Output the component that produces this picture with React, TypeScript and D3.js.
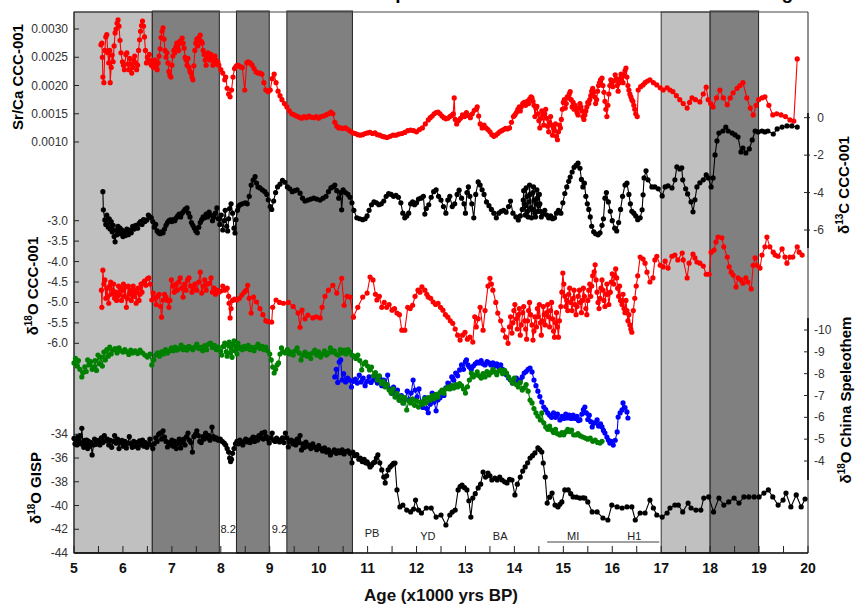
import React from 'react';
import * as d3 from 'd3';

type P = [number, number];

// ---------- Axis ticks ----------
const xTicks = [5, 6, 7, 8, 9, 10, 11, 12, 13, 14, 15, 16, 17, 18, 19, 20];
const xMinorTicks = [5.5, 6.5, 7.5, 8.5, 9.5, 10.5, 11.5, 12.5, 13.5, 14.5, 15.5, 16.5, 17.5, 18.5, 19.5];
const srTicks = [0.001, 0.0015, 0.002, 0.0025, 0.003];
const d13cTicks = [0, -2, -4, -6];
const d18oTicks = [-3.0, -3.5, -4.0, -4.5, -5.0, -5.5, -6.0];
const chinaTicks = [-10, -9, -8, -7, -6, -5, -4];
const gispTicks = [-34, -36, -38, -40, -42, -44];

// ---------- Shaded intervals (ka) ----------
const lightBands: P[] = [[5, 6.6], [17, 18]];
const darkBands: P[] = [[6.6, 7.97], [8.32, 8.99], [9.35, 10.69], [18, 18.99]];

// ---------- Event labels ----------
const eventNames = ['8.2', '9.2', 'PB', 'YD', 'BA', 'MI', 'H1'];
const eventAges = [8.15, 9.2, 11.09, 12.23, 13.71, 15.2, 16.45];
const miH1Span: P = [14.67, 16.96];

// ---------- Sr/Ca CCC-001 ----------
const srCa: P[] = [
[5.55,0.00272],[5.57,0.00275],[5.58,0.00250],[5.59,0.00215],[5.61,0.00205],[5.63,0.00262],[5.65,0.00286],[5.67,0.00290],[5.69,0.00258],[5.71,0.00240],[5.73,0.00262],[5.74,0.00205],[5.76,0.00232],[5.78,0.00254],[5.80,0.00242],[5.82,0.00270],[5.84,0.00293],[5.86,0.00300],[5.88,0.00310],[5.90,0.00316],[5.92,0.00305],[5.94,0.00280],[5.96,0.00258],[5.99,0.00242],[6.01,0.00236],[6.03,0.00228],[6.06,0.00255],[6.08,0.00258],[6.10,0.00238],[6.12,0.00228],[6.14,0.00248],[6.16,0.00238],[6.18,0.00222],[6.20,0.00232],[6.22,0.00245],[6.24,0.00252],[6.26,0.00240],[6.28,0.00228],[6.30,0.00236],[6.32,0.00262],[6.34,0.00281],[6.36,0.00296],[6.38,0.00306],[6.40,0.00314],[6.42,0.00305],[6.44,0.00286],[6.46,0.00262],[6.48,0.00240],[6.50,0.00250],[6.52,0.00245],[6.54,0.00255],[6.56,0.00240],[6.58,0.00236],[6.60,0.00245],[6.62,0.00232],[6.64,0.00240],[6.66,0.00245],[6.68,0.00234],[6.70,0.00228],[6.72,0.00240],[6.74,0.00252],[6.76,0.00265],[6.78,0.00285],[6.80,0.00296],[6.82,0.00302],[6.84,0.00282],[6.86,0.00262],[6.88,0.00250],[6.90,0.00258],[6.92,0.00240],[6.94,0.00225],[6.96,0.00218],[6.98,0.00215],[7.00,0.00236],[7.02,0.00252],[7.04,0.00262],[7.06,0.00258],[7.08,0.00268],[7.10,0.00275],[7.12,0.00270],[7.14,0.00262],[7.16,0.00278],[7.18,0.00275],[7.21,0.00284],[7.23,0.00275],[7.25,0.00266],[7.27,0.00250],[7.29,0.00245],[7.31,0.00236],[7.33,0.00248],[7.35,0.00232],[7.37,0.00225],[7.39,0.00222],[7.41,0.00215],[7.43,0.00210],[7.45,0.00235],[7.47,0.00262],[7.49,0.00275],[7.51,0.00282],[7.53,0.00270],[7.55,0.00285],[7.58,0.00289],[7.60,0.00278],[7.62,0.00275],[7.64,0.00262],[7.66,0.00255],[7.68,0.00245],[7.70,0.00236],[7.72,0.00248],[7.74,0.00258],[7.76,0.00255],[7.78,0.00245],[7.80,0.00255],[7.82,0.00248],[7.84,0.00236],[7.86,0.00242],[7.88,0.00252],[7.90,0.00245],[7.92,0.00238],[7.94,0.00242],[7.96,0.00236],[8.00,0.00228],[8.04,0.00222],[8.08,0.00210],[8.10,0.00215],[8.13,0.00195],[8.16,0.00185],[8.19,0.00180],[8.22,0.00192],[8.25,0.00215],[8.28,0.00230],[8.31,0.00234],[8.34,0.00236],[8.37,0.00235],[8.40,0.00233],[8.44,0.00232],[8.49,0.00192],[8.53,0.00240],[8.56,0.00242],[8.60,0.00240],[8.64,0.00236],[8.68,0.00230],[8.72,0.00224],[8.76,0.00222],[8.80,0.00222],[8.84,0.00220],[8.88,0.00205],[8.92,0.00192],[8.97,0.00189],[9.01,0.00192],[9.05,0.00212],[9.09,0.00220],[9.13,0.00205],[9.17,0.00190],[9.21,0.00182],[9.25,0.00175],[9.30,0.00168],[9.35,0.00162],[9.40,0.00155],[9.45,0.00150],[9.50,0.00148],[9.55,0.00146],[9.60,0.00144],[9.65,0.00142],[9.70,0.00145],[9.75,0.00143],[9.80,0.00146],[9.85,0.00144],[9.90,0.00143],[9.95,0.00145],[10.00,0.00142],[10.05,0.00145],[10.10,0.00146],[10.15,0.00148],[10.20,0.00150],[10.25,0.00153],[10.29,0.00150],[10.33,0.00135],[10.37,0.00128],[10.41,0.00125],[10.45,0.00125],[10.50,0.00124],[10.55,0.00125],[10.60,0.00122],[10.65,0.00119],[10.70,0.00116],[10.75,0.00115],[10.80,0.00113],[10.85,0.00112],[10.90,0.00113],[10.95,0.00115],[11.00,0.00116],[11.05,0.00117],[11.10,0.00115],[11.15,0.00116],[11.20,0.00113],[11.25,0.00112],[11.30,0.00110],[11.35,0.00109],[11.40,0.00108],[11.46,0.00110],[11.52,0.00112],[11.58,0.00112],[11.64,0.00114],[11.70,0.00115],[11.76,0.00117],[11.82,0.00120],[11.88,0.00121],[11.94,0.00120],[12.00,0.00118],[12.06,0.00122],[12.12,0.00125],[12.18,0.00132],[12.24,0.00139],[12.28,0.00143],[12.32,0.00146],[12.36,0.00150],[12.40,0.00152],[12.44,0.00153],[12.48,0.00150],[12.52,0.00146],[12.56,0.00143],[12.60,0.00141],[12.64,0.00142],[12.68,0.00145],[12.72,0.00147],[12.75,0.00150],[12.77,0.00178],[12.79,0.00140],[12.82,0.00132],[12.86,0.00138],[12.90,0.00142],[12.94,0.00148],[12.98,0.00145],[13.02,0.00152],[13.06,0.00147],[13.10,0.00143],[13.14,0.00150],[13.18,0.00156],[13.22,0.00158],[13.24,0.00162],[13.27,0.00146],[13.30,0.00132],[13.34,0.00125],[13.38,0.00130],[13.42,0.00125],[13.46,0.00122],[13.50,0.00118],[13.54,0.00113],[13.58,0.00110],[13.62,0.00112],[13.66,0.00115],[13.70,0.00118],[13.74,0.00120],[13.78,0.00122],[13.82,0.00124],[13.86,0.00123],[13.90,0.00125],[13.94,0.00135],[13.98,0.00145],[14.01,0.00148],[14.04,0.00152],[14.07,0.00158],[14.10,0.00162],[14.12,0.00155],[14.14,0.00162],[14.17,0.00168],[14.20,0.00170],[14.23,0.00165],[14.26,0.00172],[14.29,0.00168],[14.31,0.00176],[14.34,0.00180],[14.36,0.00178],[14.38,0.00172],[14.40,0.00165],[14.42,0.00145],[14.44,0.00160],[14.46,0.00163],[14.48,0.00150],[14.50,0.00138],[14.52,0.00125],[14.54,0.00142],[14.56,0.00155],[14.58,0.00148],[14.60,0.00130],[14.62,0.00150],[14.64,0.00158],[14.66,0.00142],[14.68,0.00128],[14.70,0.00118],[14.72,0.00135],[14.74,0.00145],[14.76,0.00130],[14.78,0.00112],[14.80,0.00125],[14.82,0.00120],[14.84,0.00132],[14.86,0.00110],[14.88,0.00104],[14.90,0.00118],[14.92,0.00130],[14.94,0.00125],[14.96,0.00140],[14.98,0.00158],[15.00,0.00170],[15.02,0.00175],[15.04,0.00160],[15.06,0.00168],[15.08,0.00180],[15.10,0.00178],[15.12,0.00185],[15.14,0.00189],[15.16,0.00175],[15.18,0.00162],[15.20,0.00170],[15.22,0.00158],[15.24,0.00165],[15.26,0.00160],[15.28,0.00152],[15.30,0.00148],[15.32,0.00160],[15.34,0.00168],[15.36,0.00162],[15.38,0.00155],[15.40,0.00145],[15.42,0.00140],[15.44,0.00148],[15.46,0.00155],[15.48,0.00162],[15.50,0.00170],[15.52,0.00168],[15.54,0.00175],[15.56,0.00182],[15.58,0.00190],[15.60,0.00195],[15.62,0.00188],[15.64,0.00180],[15.66,0.00168],[15.68,0.00175],[15.70,0.00190],[15.72,0.00200],[15.74,0.00205],[15.76,0.00210],[15.79,0.00213],[15.81,0.00200],[15.83,0.00188],[15.85,0.00172],[15.87,0.00158],[15.89,0.00145],[15.91,0.00165],[15.93,0.00185],[15.95,0.00200],[15.97,0.00210],[15.99,0.00205],[16.01,0.00198],[16.03,0.00208],[16.06,0.00219],[16.08,0.00212],[16.10,0.00200],[16.12,0.00190],[16.14,0.00205],[16.16,0.00212],[16.18,0.00220],[16.20,0.00215],[16.22,0.00205],[16.24,0.00218],[16.26,0.00226],[16.28,0.00231],[16.30,0.00215],[16.32,0.00200],[16.34,0.00192],[16.36,0.00185],[16.38,0.00180],[16.40,0.00175],[16.42,0.00172],[16.44,0.00165],[16.46,0.00158],[16.48,0.00150],[16.51,0.00145],[16.53,0.00192],[16.58,0.00198],[16.63,0.00201],[16.67,0.00205],[16.72,0.00208],[16.77,0.00210],[16.84,0.00205],[16.91,0.00201],[16.98,0.00196],[17.04,0.00192],[17.12,0.00196],[17.18,0.00192],[17.24,0.00189],[17.31,0.00182],[17.38,0.00175],[17.45,0.00168],[17.53,0.00160],[17.58,0.00170],[17.63,0.00178],[17.70,0.00175],[17.79,0.00171],[17.86,0.00185],[17.92,0.00197],[17.96,0.00175],[18.01,0.00168],[18.06,0.00162],[18.13,0.00178],[18.20,0.00192],[18.27,0.00178],[18.35,0.00166],[18.41,0.00178],[18.47,0.00187],[18.55,0.00195],[18.61,0.00200],[18.67,0.00205],[18.75,0.00178],[18.82,0.00160],[18.88,0.00148],[18.94,0.00165],[18.99,0.00175],[19.06,0.00178],[19.12,0.00180],[19.20,0.00165],[19.28,0.00148],[19.36,0.00150],[19.45,0.00148],[19.54,0.00145],[19.63,0.00139],[19.71,0.00137],[19.78,0.00247]
];

// ---------- d13C CCC-001 ----------
const d13c: P[] = [
[5.59,-3.95],[5.60,-4.92],[5.63,-5.46],[5.65,-5.70],[5.67,-5.20],[5.70,-5.85],[5.72,-5.40],[5.74,-5.95],[5.76,-5.55],[5.78,-6.10],[5.80,-5.75],[5.82,-6.35],[5.84,-6.63],[5.86,-6.00],[5.88,-6.25],[5.90,-5.80],[5.92,-6.05],[5.94,-5.90],[5.96,-6.20],[5.98,-6.00],[6.00,-6.35],[6.03,-6.10],[6.05,-6.30],[6.08,-5.95],[6.11,-6.25],[6.14,-6.00],[6.17,-6.15],[6.20,-5.80],[6.23,-5.95],[6.26,-5.75],[6.30,-5.90],[6.33,-5.65],[6.36,-5.55],[6.39,-5.70],[6.42,-5.45],[6.45,-5.55],[6.49,-5.46],[6.52,-5.20],[6.55,-5.30],[6.58,-5.35],[6.61,-5.55],[6.64,-5.85],[6.67,-5.70],[6.70,-6.05],[6.73,-6.15],[6.76,-6.20],[6.79,-6.10],[6.82,-6.15],[6.85,-5.95],[6.88,-5.75],[6.91,-5.60],[6.94,-5.50],[6.97,-5.46],[7.00,-5.55],[7.03,-5.45],[7.06,-5.50],[7.09,-5.35],[7.12,-5.25],[7.15,-5.15],[7.18,-5.30],[7.21,-5.10],[7.24,-5.00],[7.27,-4.90],[7.31,-4.82],[7.34,-5.10],[7.37,-5.30],[7.40,-5.60],[7.43,-5.75],[7.46,-5.90],[7.49,-6.05],[7.52,-6.15],[7.55,-5.85],[7.58,-5.60],[7.61,-5.45],[7.64,-5.30],[7.67,-5.35],[7.70,-5.15],[7.73,-5.30],[7.76,-5.05],[7.80,-5.20],[7.83,-5.50],[7.86,-5.30],[7.89,-5.10],[7.92,-4.82],[7.95,-5.40],[7.98,-5.70],[8.01,-5.20],[8.04,-6.00],[8.07,-5.50],[8.09,-4.95],[8.12,-5.80],[8.14,-6.05],[8.16,-5.40],[8.18,-4.85],[8.21,-4.60],[8.24,-5.10],[8.27,-5.90],[8.29,-6.16],[8.31,-5.45],[8.34,-4.95],[8.36,-4.75],[8.39,-4.65],[8.44,-4.60],[8.50,-4.55],[8.54,-4.60],[8.58,-4.20],[8.62,-3.60],[8.66,-3.33],[8.70,-3.15],[8.73,-3.50],[8.76,-3.70],[8.80,-3.75],[8.85,-3.86],[8.90,-3.95],[8.94,-4.10],[8.97,-4.39],[9.01,-4.75],[9.04,-4.90],[9.08,-4.45],[9.12,-4.00],[9.16,-3.70],[9.21,-3.55],[9.26,-3.35],[9.31,-3.45],[9.36,-3.70],[9.41,-3.80],[9.46,-3.95],[9.51,-3.90],[9.56,-3.85],[9.62,-4.03],[9.67,-4.30],[9.72,-4.45],[9.78,-4.40],[9.84,-4.35],[9.90,-4.30],[9.96,-4.35],[10.03,-4.40],[10.09,-4.30],[10.15,-4.20],[10.20,-3.95],[10.25,-3.75],[10.29,-3.70],[10.33,-3.60],[10.37,-3.90],[10.41,-4.30],[10.45,-4.00],[10.47,-4.92],[10.50,-3.85],[10.55,-4.00],[10.60,-4.10],[10.64,-4.25],[10.68,-4.55],[10.72,-4.95],[10.78,-5.35],[10.84,-5.40],[10.90,-5.45],[10.95,-5.40],[10.99,-5.25],[11.03,-4.95],[11.08,-4.65],[11.13,-4.50],[11.18,-4.55],[11.23,-4.65],[11.28,-4.60],[11.33,-4.45],[11.38,-4.20],[11.43,-4.05],[11.48,-4.10],[11.53,-4.20],[11.58,-4.15],[11.63,-4.25],[11.68,-4.55],[11.72,-5.10],[11.76,-5.35],[11.80,-5.25],[11.84,-5.10],[11.88,-4.60],[11.92,-4.50],[11.96,-4.65],[12.00,-4.55],[12.04,-4.35],[12.09,-4.30],[12.14,-4.20],[12.17,-5.15],[12.20,-4.85],[12.25,-4.65],[12.30,-4.25],[12.35,-3.95],[12.40,-3.85],[12.45,-4.20],[12.50,-4.40],[12.55,-4.75],[12.60,-5.10],[12.64,-4.40],[12.68,-4.20],[12.73,-4.75],[12.78,-4.60],[12.83,-4.10],[12.87,-3.87],[12.92,-4.30],[12.97,-4.60],[13.00,-5.10],[13.03,-4.00],[13.06,-3.70],[13.09,-4.20],[13.13,-4.60],[13.17,-5.35],[13.21,-4.10],[13.26,-3.43],[13.30,-3.60],[13.34,-3.85],[13.38,-4.10],[13.43,-4.50],[13.48,-4.70],[13.53,-4.90],[13.58,-5.10],[13.63,-5.35],[13.68,-5.10],[13.73,-5.00],[13.78,-4.95],[13.83,-5.05],[13.88,-4.75],[13.92,-4.45],[13.97,-5.10],[14.03,-5.30],[14.08,-5.46],[14.12,-5.25],[14.16,-4.90],[14.18,-4.40],[14.19,-3.90],[14.20,-4.60],[14.22,-5.20],[14.23,-4.70],[14.24,-3.75],[14.26,-4.20],[14.27,-5.00],[14.28,-5.30],[14.30,-4.50],[14.31,-3.60],[14.32,-4.10],[14.34,-4.80],[14.35,-5.35],[14.36,-4.90],[14.38,-4.00],[14.39,-3.70],[14.40,-4.40],[14.42,-5.10],[14.43,-5.30],[14.44,-4.60],[14.46,-3.85],[14.47,-4.30],[14.48,-5.00],[14.50,-4.70],[14.51,-4.10],[14.52,-4.60],[14.53,-5.00],[14.55,-5.30],[14.58,-5.15],[14.62,-4.95],[14.66,-5.20],[14.70,-5.35],[14.74,-5.25],[14.78,-5.40],[14.82,-5.35],[14.86,-5.10],[14.90,-4.95],[14.95,-5.10],[14.99,-4.55],[15.03,-4.05],[15.07,-3.70],[15.11,-3.40],[15.14,-3.17],[15.18,-2.90],[15.22,-2.65],[15.26,-2.55],[15.30,-2.43],[15.34,-2.70],[15.37,-3.30],[15.40,-3.70],[15.43,-3.50],[15.46,-4.20],[15.49,-4.60],[15.52,-4.90],[15.55,-5.30],[15.58,-5.80],[15.62,-6.10],[15.66,-6.20],[15.71,-6.26],[15.75,-6.15],[15.79,-5.75],[15.82,-5.40],[15.85,-4.30],[15.88,-4.00],[15.92,-4.50],[15.96,-5.00],[16.00,-5.50],[16.05,-5.90],[16.09,-6.05],[16.13,-5.60],[16.17,-4.90],[16.21,-4.20],[16.26,-3.60],[16.30,-3.50],[16.34,-4.10],[16.37,-4.60],[16.40,-5.00],[16.44,-5.10],[16.48,-5.25],[16.52,-5.45],[16.57,-5.35],[16.61,-4.92],[16.63,-4.12],[16.65,-3.22],[16.69,-2.84],[16.73,-3.32],[16.81,-3.70],[16.87,-3.70],[16.94,-3.80],[17.02,-4.18],[17.08,-3.70],[17.14,-3.64],[17.22,-3.75],[17.28,-3.32],[17.32,-2.63],[17.38,-2.74],[17.42,-2.68],[17.44,-3.32],[17.50,-3.80],[17.54,-4.07],[17.61,-4.50],[17.65,-5.03],[17.69,-4.39],[17.73,-3.70],[17.79,-3.48],[17.86,-3.32],[17.92,-3.06],[17.96,-3.22],[18.02,-3.70],[18.06,-3.22],[18.10,-1.99],[18.14,-1.24],[18.18,-0.82],[18.26,-0.71],[18.32,-0.50],[18.37,-0.71],[18.45,-0.82],[18.51,-0.92],[18.57,-1.03],[18.63,-1.83],[18.67,-1.62],[18.73,-1.88],[18.80,-1.67],[18.86,-1.19],[18.92,-0.71],[18.98,-0.76],[19.06,-0.71],[19.12,-0.76],[19.18,-0.71],[19.29,-0.87],[19.37,-0.60],[19.47,-0.50],[19.57,-0.44],[19.67,-0.44],[19.78,-0.50]
];

// ---------- d18O CCC-001 ----------
const d18oCCC: P[] = [
[5.56,-4.70],[5.57,-5.12],[5.59,-4.21],[5.61,-4.55],[5.63,-4.45],[5.65,-4.90],[5.67,-4.65],[5.69,-4.85],[5.71,-5.02],[5.73,-4.60],[5.75,-4.50],[5.77,-4.80],[5.79,-4.70],[5.81,-4.55],[5.83,-4.90],[5.85,-4.75],[5.87,-4.95],[5.89,-4.85],[5.91,-4.60],[5.93,-4.80],[5.95,-4.65],[5.97,-4.95],[5.99,-4.70],[6.01,-4.55],[6.03,-4.85],[6.05,-4.62],[6.07,-5.12],[6.09,-4.90],[6.11,-4.60],[6.13,-4.80],[6.15,-4.70],[6.17,-4.95],[6.19,-4.77],[6.21,-4.60],[6.23,-4.85],[6.25,-4.70],[6.27,-5.02],[6.29,-4.75],[6.31,-4.65],[6.33,-4.95],[6.35,-4.80],[6.37,-4.55],[6.39,-4.75],[6.41,-4.53],[6.44,-4.48],[6.47,-4.58],[6.50,-4.42],[6.53,-4.40],[6.56,-4.55],[6.59,-4.94],[6.62,-4.77],[6.65,-4.90],[6.68,-5.05],[6.71,-4.85],[6.74,-4.80],[6.77,-5.10],[6.79,-5.36],[6.82,-4.94],[6.85,-4.80],[6.88,-4.87],[6.91,-4.95],[6.94,-5.12],[6.96,-4.95],[6.99,-4.45],[7.02,-4.60],[7.05,-4.75],[7.08,-4.55],[7.11,-4.70],[7.14,-4.50],[7.17,-4.40],[7.20,-4.65],[7.23,-4.87],[7.26,-4.55],[7.29,-4.70],[7.32,-4.45],[7.35,-4.40],[7.38,-4.60],[7.41,-4.75],[7.44,-4.65],[7.47,-4.55],[7.51,-4.70],[7.55,-4.50],[7.58,-4.26],[7.61,-4.77],[7.64,-4.60],[7.67,-4.45],[7.70,-4.70],[7.73,-4.55],[7.77,-4.53],[7.80,-4.40],[7.83,-4.75],[7.86,-4.65],[7.89,-4.80],[7.92,-4.70],[7.96,-4.75],[8.00,-4.72],[8.04,-4.60],[8.08,-4.70],[8.13,-4.65],[8.16,-4.85],[8.17,-5.02],[8.19,-5.38],[8.21,-5.15],[8.24,-4.95],[8.28,-4.92],[8.33,-4.94],[8.38,-4.90],[8.43,-4.82],[8.48,-4.75],[8.52,-4.70],[8.55,-4.58],[8.58,-4.90],[8.62,-5.26],[8.67,-4.87],[8.73,-4.99],[8.80,-5.15],[8.86,-5.30],[8.92,-5.45],[8.97,-5.47],[9.04,-5.48],[9.06,-5.12],[9.13,-4.94],[9.20,-5.00],[9.28,-5.02],[9.38,-5.00],[9.48,-5.10],[9.58,-5.26],[9.62,-5.61],[9.66,-5.19],[9.72,-5.40],[9.78,-5.31],[9.88,-5.38],[9.95,-5.35],[10.03,-5.38],[10.07,-5.12],[10.13,-4.85],[10.20,-4.70],[10.29,-4.58],[10.37,-4.77],[10.47,-4.41],[10.52,-5.07],[10.58,-4.85],[10.64,-4.87],[10.71,-5.36],[10.80,-5.12],[10.90,-4.87],[10.99,-4.77],[11.05,-4.38],[11.11,-4.45],[11.16,-4.80],[11.19,-4.94],[11.24,-4.85],[11.29,-5.12],[11.34,-5.00],[11.39,-5.12],[11.44,-5.05],[11.50,-5.19],[11.55,-5.15],[11.60,-5.26],[11.65,-5.30],[11.70,-5.68],[11.76,-5.68],[11.82,-5.12],[11.87,-5.15],[11.92,-5.07],[11.97,-4.85],[12.03,-4.70],[12.07,-4.75],[12.11,-4.62],[12.17,-4.70],[12.21,-4.80],[12.24,-4.87],[12.29,-4.90],[12.34,-4.99],[12.39,-5.05],[12.44,-5.02],[12.49,-5.12],[12.54,-5.19],[12.59,-5.30],[12.64,-5.36],[12.69,-5.45],[12.74,-5.51],[12.79,-5.65],[12.84,-5.80],[12.89,-5.92],[12.94,-5.80],[12.99,-5.73],[13.04,-5.90],[13.09,-5.85],[13.15,-5.97],[13.19,-5.35],[13.22,-5.60],[13.26,-5.40],[13.30,-5.12],[13.36,-5.68],[13.40,-5.20],[13.46,-4.60],[13.50,-4.41],[13.53,-4.55],[13.56,-4.70],[13.62,-5.00],[13.66,-5.26],[13.72,-5.45],[13.77,-5.68],[13.82,-5.85],[13.87,-6.00],
[13.90,-5.60],[13.92,-5.35],[13.95,-5.75],[13.97,-5.50],[13.99,-5.20],[14.01,-5.05],[14.04,-5.40],[14.06,-5.65],[14.08,-5.30],[14.10,-5.15],[14.12,-5.80],[14.14,-5.55],[14.17,-5.25],[14.19,-5.10],[14.21,-5.45],[14.23,-5.65],[14.25,-5.90],[14.27,-5.45],[14.29,-5.20],[14.31,-5.00],[14.33,-5.30],[14.36,-5.55],[14.38,-5.92],[14.40,-5.70],[14.42,-5.35],[14.45,-5.60],[14.47,-5.15],[14.49,-5.35],[14.51,-5.05],[14.53,-5.50],[14.55,-5.80],[14.57,-5.45],[14.59,-5.10],[14.61,-5.30],[14.63,-5.55],[14.66,-5.25],[14.68,-5.05],[14.70,-5.35],[14.72,-5.60],[14.74,-5.20],[14.76,-5.00],[14.78,-5.40],[14.80,-5.70],[14.82,-5.85],[14.84,-5.50],[14.86,-5.25],[14.88,-5.60],[14.90,-5.85],[14.92,-5.45],[14.95,-5.10],[14.97,-4.75],[14.99,-4.28],[15.01,-4.55],[15.03,-4.85],[15.05,-5.10],[15.07,-4.95],[15.09,-5.20],[15.11,-4.80],[15.13,-4.65],[15.15,-5.00],[15.18,-5.20],[15.20,-4.90],[15.22,-4.70],[15.24,-5.05],[15.26,-5.30],[15.28,-5.10],[15.30,-4.85],[15.33,-4.70],[15.35,-5.00],[15.37,-5.25],[15.39,-4.95],[15.41,-4.65],[15.43,-4.85],[15.46,-5.15],[15.48,-5.30],[15.50,-4.95],[15.52,-4.70],[15.54,-4.55],[15.56,-4.85],[15.58,-4.60],[15.60,-4.35],[15.63,-4.25],[15.65,-4.08],[15.67,-4.45],[15.69,-4.75],[15.71,-5.00],[15.73,-5.15],[15.75,-4.90],[15.77,-4.65],[15.79,-4.45],[15.81,-4.70],[15.83,-4.95],[15.85,-5.10],[15.87,-4.80],[15.89,-4.55],[15.91,-4.80],[15.93,-5.05],[15.96,-4.75],[15.98,-4.50],[16.00,-4.30],[16.03,-4.55],[16.05,-4.35],[16.07,-4.18],[16.09,-4.40],[16.11,-4.65],[16.13,-4.85],[16.15,-4.60],[16.17,-4.95],[16.20,-5.05],[16.22,-4.80],[16.24,-5.15],[16.26,-5.25],[16.28,-4.95],[16.30,-5.20],[16.32,-5.45],[16.34,-5.30],[16.36,-5.55],[16.38,-5.65],[16.40,-5.73],[16.43,-5.20],[16.46,-4.90],[16.49,-4.60],[16.52,-4.35],
[16.57,-3.89],[16.63,-3.94],[16.67,-4.04],[16.71,-4.26],[16.77,-4.50],[16.83,-4.40],[16.87,-3.96],[16.91,-3.87],[16.98,-4.09],[17.04,-4.13],[17.08,-3.99],[17.14,-4.16],[17.22,-3.87],[17.28,-3.84],[17.34,-3.96],[17.43,-3.79],[17.45,-3.96],[17.53,-4.40],[17.57,-4.04],[17.65,-3.82],[17.69,-3.91],[17.73,-4.01],[17.79,-4.04],[17.86,-4.11],[17.92,-4.31],[17.98,-4.31],[18.02,-3.77],[18.08,-3.72],[18.12,-3.52],[18.16,-3.40],[18.24,-3.42],[18.28,-3.64],[18.35,-3.89],[18.39,-4.13],[18.43,-4.26],[18.47,-4.33],[18.53,-4.62],[18.57,-4.40],[18.63,-4.45],[18.67,-4.53],[18.73,-4.40],[18.77,-4.50],[18.84,-4.67],[18.88,-4.09],[18.92,-3.91],[18.96,-4.09],[19.02,-4.16],[19.06,-3.84],[19.12,-3.64],[19.16,-3.40],[19.22,-3.64],[19.29,-3.77],[19.33,-3.84],[19.39,-3.87],[19.47,-3.69],[19.53,-3.89],[19.57,-4.04],[19.63,-3.89],[19.69,-3.89],[19.78,-3.64],[19.82,-3.77],[19.88,-3.84]
];

// ---------- China speleothem d18O (green) ----------
const chinaGreen: P[] = [
[5.00,-8.49],[5.03,-8.70],[5.06,-8.35],[5.09,-8.60],[5.12,-8.20],[5.16,-7.85],[5.19,-8.05],[5.22,-8.31],[5.25,-8.10],[5.28,-8.63],[5.31,-8.40],[5.34,-8.55],[5.37,-8.20],[5.40,-8.31],[5.43,-8.60],[5.46,-8.15],[5.49,-8.85],[5.52,-8.45],[5.55,-8.76],[5.58,-8.35],[5.61,-8.99],[5.64,-8.63],[5.67,-9.10],[5.70,-8.80],[5.73,-9.22],[5.76,-8.90],[5.80,-9.08],[5.84,-9.15],[5.88,-8.95],[5.92,-9.18],[5.96,-9.05],[6.00,-8.99],[6.04,-9.10],[6.08,-9.00],[6.12,-8.88],[6.16,-9.08],[6.20,-8.95],[6.25,-9.05],[6.30,-8.92],[6.35,-9.08],[6.40,-8.95],[6.45,-8.85],[6.50,-8.76],[6.55,-8.90],[6.59,-8.40],[6.63,-8.63],[6.67,-8.85],[6.71,-8.95],[6.75,-8.80],[6.79,-9.00],[6.83,-8.90],[6.87,-9.10],[6.91,-8.95],[6.95,-9.05],[6.99,-9.18],[7.03,-9.05],[7.07,-9.22],[7.11,-9.08],[7.15,-9.15],[7.19,-9.31],[7.23,-9.10],[7.27,-9.20],[7.31,-9.08],[7.35,-9.25],[7.39,-9.18],[7.43,-9.10],[7.47,-9.22],[7.51,-9.35],[7.55,-9.15],[7.59,-9.20],[7.63,-9.05],[7.67,-9.28],[7.71,-9.10],[7.75,-9.35],[7.79,-9.40],[7.83,-9.20],[7.87,-9.30],[7.91,-9.10],[7.95,-9.22],[7.99,-9.05],[8.02,-8.85],[8.05,-9.25],[8.08,-9.40],[8.11,-9.00],[8.13,-8.80],[8.15,-9.30],[8.17,-9.45],[8.19,-8.95],[8.21,-9.20],[8.23,-8.75],[8.25,-9.35],[8.27,-9.50],[8.29,-9.05],[8.31,-9.25],[8.33,-8.90],[8.35,-9.40],[8.37,-9.15],[8.40,-9.22],[8.44,-9.10],[8.48,-9.25],[8.52,-9.15],[8.56,-9.30],[8.60,-9.10],[8.64,-9.20],[8.68,-9.05],[8.72,-9.22],[8.76,-9.35],[8.80,-9.15],[8.84,-9.25],[8.88,-9.10],[8.92,-9.22],[8.96,-9.05],[9.00,-8.90],[9.03,-8.63],[9.06,-8.30],[9.09,-8.03],[9.12,-8.20],[9.15,-8.40],[9.18,-8.49],[9.21,-8.90],[9.24,-9.18],[9.28,-9.00],[9.32,-8.95],[9.36,-9.10],[9.40,-8.90],[9.44,-8.99],[9.48,-8.85],[9.52,-9.05],[9.56,-9.18],[9.60,-8.95],[9.64,-8.63],[9.68,-8.85],[9.72,-8.99],[9.76,-8.80],[9.80,-8.90],[9.84,-8.70],[9.88,-8.95],[9.92,-9.08],[9.96,-8.85],[10.00,-9.00],[10.04,-8.76],[10.08,-8.90],[10.12,-9.05],[10.16,-8.85],[10.20,-8.95],[10.24,-9.18],[10.28,-8.99],[10.32,-9.05],[10.36,-8.90],[10.40,-8.85],[10.44,-9.10],[10.48,-8.95],[10.52,-9.08],[10.56,-8.90],[10.60,-9.10],[10.64,-8.99],[10.68,-8.85],[10.72,-8.80],[10.76,-8.70],[10.80,-8.85],[10.84,-8.60],[10.88,-8.17],[10.92,-8.45],[10.96,-8.53],[11.00,-8.35],[11.04,-8.17],[11.08,-8.30],[11.12,-7.90],[11.16,-8.05],[11.20,-7.71],[11.24,-7.90],[11.28,-7.55],[11.32,-7.65],[11.36,-7.39],[11.40,-7.50],[11.44,-7.25],[11.48,-7.11],[11.52,-7.30],[11.56,-6.93],[11.60,-7.10],[11.64,-6.79],[11.68,-6.95],[11.72,-6.66],[11.76,-6.90],[11.80,-6.34],[11.84,-6.75],[11.88,-6.66],[11.92,-6.85],[11.96,-6.55],[12.00,-6.75],[12.04,-6.47],[12.08,-6.70],[12.12,-6.60],[12.16,-6.85],[12.20,-6.66],[12.24,-6.90],[12.28,-6.79],[12.32,-7.00],[12.36,-6.85],[12.40,-7.05],[12.44,-6.93],[12.48,-7.15],[12.52,-7.25],[12.56,-7.10],[12.60,-7.30],[12.64,-7.39],[12.68,-7.30],[12.72,-7.45],[12.76,-7.34],[12.80,-7.50],[12.84,-7.39],[12.88,-7.55],[12.92,-7.45],[12.96,-7.30],[13.00,-7.11],[13.04,-7.40],[13.08,-7.71],[13.12,-8.03],[13.16,-7.85],[13.20,-7.94],[13.24,-8.08],[13.28,-7.90],[13.32,-7.80],[13.36,-8.00],[13.40,-7.85],[13.44,-8.10],[13.48,-7.94],[13.52,-8.05],[13.56,-8.20],[13.60,-8.08],[13.64,-7.95],[13.68,-8.12],[13.72,-8.17],[13.76,-8.00],[13.80,-8.15],[13.84,-8.03],[13.88,-7.85],[13.92,-7.71],[13.96,-7.57],[14.00,-7.80],[14.04,-7.50],[14.08,-7.39],[14.12,-7.60],[14.16,-7.25],[14.20,-7.35],[14.24,-7.50],[14.28,-7.20],[14.32,-6.79],[14.36,-6.66],[14.40,-6.40],[14.44,-6.20],[14.48,-6.05],[14.53,-5.88],[14.56,-6.20],[14.60,-5.75],[14.64,-5.56],[14.68,-5.45],[14.72,-5.60],[14.76,-5.42],[14.80,-5.30],[14.84,-5.45],[14.88,-5.25],[14.93,-5.19],[14.97,-5.30],[15.01,-5.20],[15.05,-5.33],[15.09,-5.45],[15.13,-5.35],[15.17,-5.42],[15.21,-5.20],[15.26,-5.19],[15.30,-5.25],[15.35,-5.15],[15.40,-5.10],[15.45,-5.05],[15.50,-5.00],[15.55,-5.05],[15.60,-4.90],[15.65,-4.96],[15.70,-4.85],[15.75,-4.82],[15.79,-4.90]
];

// ---------- China speleothem d18O (blue) ----------
const chinaBlue: P[] = [
[10.33,-7.85],[10.36,-8.20],[10.39,-7.60],[10.42,-8.53],[10.45,-8.63],[10.48,-7.71],[10.51,-8.00],[10.55,-7.62],[10.59,-7.80],[10.63,-7.71],[10.67,-7.39],[10.71,-7.65],[10.75,-7.75],[10.79,-7.57],[10.83,-7.94],[10.87,-7.62],[10.91,-7.80],[10.95,-7.45],[10.99,-7.65],[11.03,-7.85],[11.07,-7.60],[11.12,-7.71],[11.16,-7.90],[11.20,-7.57],[11.25,-7.80],[11.29,-7.45],[11.33,-7.70],[11.37,-7.50],[11.41,-7.94],[11.45,-7.30],[11.49,-7.10],[11.53,-7.39],[11.57,-6.95],[11.61,-7.25],[11.65,-6.79],[11.69,-7.00],[11.73,-6.66],[11.77,-6.85],[11.81,-7.20],[11.85,-6.79],[11.89,-7.11],[11.93,-7.71],[11.97,-7.25],[12.01,-6.93],[12.05,-7.30],[12.09,-6.70],[12.13,-6.45],[12.17,-6.90],[12.21,-6.40],[12.24,-6.21],[12.28,-6.60],[12.32,-7.11],[12.36,-6.70],[12.40,-6.30],[12.44,-6.80],[12.48,-6.90],[12.52,-7.20],[12.56,-7.00],[12.60,-7.35],[12.64,-7.57],[12.68,-7.40],[12.72,-7.85],[12.76,-7.70],[12.80,-8.03],[12.84,-7.90],[12.88,-8.17],[12.92,-8.40],[12.96,-8.20],[13.00,-8.55],[13.02,-8.63],[13.05,-8.40],[13.08,-8.30],[13.12,-8.20],[13.16,-8.35],[13.20,-8.45],[13.24,-8.53],[13.28,-8.49],[13.32,-8.60],[13.36,-8.45],[13.40,-8.40],[13.44,-8.55],[13.48,-8.49],[13.52,-8.40],[13.56,-8.49],[13.60,-8.35],[13.64,-8.45],[13.68,-8.31],[13.72,-8.40],[13.76,-8.20],[13.80,-8.08],[13.84,-7.94],[13.88,-7.80],[13.92,-7.71],[13.96,-7.57],[14.00,-7.65],[14.04,-7.80],[14.08,-7.62],[14.12,-7.71],[14.16,-7.85],[14.20,-8.03],[14.24,-8.10],[14.28,-8.20],[14.32,-8.26],[14.36,-8.08],[14.40,-7.71],[14.44,-7.45],[14.48,-7.20],[14.52,-6.95],[14.56,-6.70],[14.60,-6.47],[14.64,-6.35],[14.68,-6.20],[14.72,-6.10],[14.76,-6.00],[14.80,-6.20],[14.84,-6.00],[14.88,-6.15],[14.93,-5.88],[14.97,-6.05],[15.01,-5.95],[15.05,-6.15],[15.08,-5.97],[15.12,-6.10],[15.16,-5.95],[15.20,-6.10],[15.24,-5.95],[15.28,-6.05],[15.31,-5.85],[15.34,-5.88],[15.38,-6.15],[15.41,-6.35],[15.44,-6.47],[15.47,-6.20],[15.50,-5.90],[15.53,-6.10],[15.56,-5.80],[15.59,-5.56],[15.62,-5.75],[15.65,-5.74],[15.69,-5.88],[15.72,-5.60],[15.76,-5.70],[15.79,-5.56],[15.82,-5.40],[15.85,-5.28],[15.89,-5.10],[15.92,-4.96],[15.95,-4.82],[15.98,-4.90],[16.02,-4.73],[16.06,-4.95],[16.10,-5.33],[16.12,-6.01],[16.16,-6.20],[16.20,-6.34],[16.22,-6.66],[16.26,-6.45],[16.30,-6.25],[16.32,-5.97]
];

// ---------- GISP d18O ----------
const gisp: P[] = [
[5.00,-34.35],[5.02,-34.80],[5.04,-34.40],[5.06,-34.90],[5.08,-34.20],[5.10,-34.60],[5.12,-34.10],[5.14,-34.80],[5.16,-33.50],[5.18,-34.70],[5.20,-35.10],[5.22,-34.50],[5.24,-34.90],[5.26,-34.48],[5.28,-35.20],[5.30,-34.60],[5.32,-35.00],[5.35,-34.70],[5.37,-35.74],[5.40,-34.90],[5.42,-34.40],[5.44,-34.85],[5.47,-34.65],[5.50,-34.50],[5.53,-34.90],[5.56,-34.30],[5.59,-34.70],[5.62,-34.10],[5.65,-34.55],[5.68,-34.40],[5.71,-34.90],[5.74,-34.50],[5.77,-35.10],[5.80,-34.60],[5.83,-34.10],[5.86,-34.75],[5.89,-34.40],[5.92,-35.20],[5.95,-34.70],[5.98,-34.50],[6.01,-35.00],[6.04,-34.60],[6.07,-35.15],[6.10,-34.75],[6.13,-34.20],[6.16,-34.80],[6.19,-35.10],[6.22,-34.60],[6.25,-35.00],[6.28,-34.70],[6.31,-35.15],[6.34,-34.55],[6.37,-34.90],[6.40,-34.48],[6.43,-35.00],[6.46,-34.70],[6.49,-35.10],[6.52,-34.80],[6.55,-34.40],[6.58,-34.90],[6.61,-35.20],[6.64,-34.80],[6.67,-34.30],[6.70,-34.60],[6.73,-34.00],[6.76,-33.90],[6.79,-34.40],[6.82,-33.70],[6.85,-34.23],[6.88,-34.60],[6.91,-35.07],[6.94,-34.70],[6.97,-34.90],[7.00,-34.48],[7.03,-35.00],[7.06,-34.60],[7.09,-35.20],[7.12,-34.80],[7.15,-34.40],[7.18,-35.15],[7.21,-34.70],[7.24,-34.40],[7.27,-34.90],[7.30,-34.20],[7.33,-33.89],[7.36,-34.50],[7.39,-34.70],[7.42,-35.50],[7.45,-34.20],[7.48,-34.00],[7.51,-33.70],[7.54,-34.10],[7.57,-34.60],[7.60,-34.70],[7.63,-34.20],[7.66,-34.40],[7.69,-33.90],[7.72,-34.30],[7.75,-34.10],[7.78,-34.50],[7.82,-33.40],[7.85,-34.20],[7.88,-34.40],[7.91,-34.30],[7.95,-34.50],[7.99,-34.40],[8.03,-34.60],[8.07,-34.75],[8.10,-34.90],[8.13,-35.20],[8.16,-35.50],[8.18,-36.00],[8.20,-36.30],[8.22,-36.10],[8.24,-35.60],[8.27,-35.20],[8.30,-34.80],[8.33,-34.60],[8.36,-34.80],[8.39,-34.48],[8.42,-34.70],[8.45,-34.90],[8.48,-34.60],[8.51,-34.40],[8.54,-34.65],[8.57,-34.50],[8.60,-34.70],[8.63,-34.40],[8.66,-34.23],[8.69,-34.60],[8.72,-34.30],[8.75,-34.50],[8.78,-34.10],[8.81,-34.31],[8.84,-33.89],[8.87,-34.40],[8.90,-33.81],[8.93,-34.20],[8.96,-34.40],[8.99,-34.73],[9.02,-34.30],[9.05,-33.89],[9.08,-34.50],[9.11,-34.60],[9.14,-34.31],[9.17,-34.45],[9.20,-34.65],[9.23,-34.50],[9.26,-34.30],[9.29,-34.70],[9.32,-33.89],[9.35,-34.30],[9.38,-35.07],[9.41,-34.60],[9.44,-34.48],[9.47,-34.80],[9.50,-34.60],[9.53,-34.90],[9.56,-34.40],[9.59,-34.70],[9.62,-34.10],[9.65,-35.32],[9.68,-34.80],[9.71,-35.10],[9.74,-34.65],[9.77,-35.00],[9.80,-34.90],[9.84,-35.20],[9.88,-34.80],[9.92,-35.10],[9.96,-35.30],[10.00,-34.95],[10.04,-35.20],[10.08,-35.40],[10.12,-35.15],[10.16,-35.50],[10.20,-35.30],[10.24,-35.74],[10.28,-35.50],[10.32,-35.30],[10.36,-35.60],[10.40,-35.40],[10.44,-35.55],[10.48,-35.30],[10.52,-35.65],[10.56,-35.45],[10.60,-35.40],[10.64,-35.60],[10.68,-36.40],[10.70,-35.49],[10.74,-35.80],[10.78,-35.70],[10.82,-36.10],[10.85,-36.00],[10.89,-36.30],[10.93,-36.10],[10.96,-36.40],[10.99,-36.33],[11.02,-36.50],[11.05,-36.75],[11.08,-36.60],[11.12,-36.40],[11.15,-36.33],[11.18,-36.00],[11.21,-35.74],[11.25,-36.40],[11.29,-37.00],[11.33,-37.60],[11.36,-38.10],[11.39,-37.50],[11.42,-37.00],[11.46,-36.75],[11.50,-36.59],[11.53,-36.45],[11.56,-36.42],[11.60,-38.69],[11.66,-40.12],[11.72,-39.96],[11.80,-40.38],[11.88,-40.54],[11.94,-40.30],[11.98,-39.54],[12.04,-40.38],[12.10,-40.63],[12.20,-40.21],[12.30,-40.21],[12.40,-40.97],[12.50,-40.80],[12.60,-41.64],[12.68,-40.80],[12.73,-40.55],[12.79,-40.38],[12.85,-38.69],[12.89,-38.40],[12.93,-38.27],[12.98,-38.50],[13.03,-38.69],[13.07,-39.60],[13.11,-40.97],[13.15,-39.37],[13.20,-39.00],[13.26,-38.52],[13.31,-38.20],[13.36,-37.18],[13.41,-37.60],[13.46,-37.26],[13.50,-37.50],[13.54,-37.85],[13.60,-37.70],[13.65,-37.85],[13.70,-37.60],[13.75,-37.85],[13.80,-38.00],[13.85,-38.10],[13.90,-37.80],[13.95,-37.85],[14.01,-39.11],[14.06,-38.20],[14.12,-37.60],[14.17,-37.10],[14.22,-36.75],[14.27,-36.40],[14.32,-36.00],[14.37,-35.80],[14.42,-35.57],[14.48,-35.15],[14.52,-35.30],[14.56,-35.49],[14.59,-36.42],[14.63,-37.60],[14.67,-39.79],[14.72,-39.30],[14.77,-38.95],[14.83,-39.96],[14.89,-40.12],[14.93,-39.90],[14.97,-39.70],[15.03,-38.69],[15.10,-38.69],[15.15,-39.00],[15.20,-39.28],[15.27,-39.30],[15.34,-39.37],[15.40,-39.35],[15.44,-39.37],[15.50,-39.70],[15.59,-40.54],[15.69,-40.54],[15.81,-41.05],[15.91,-41.22],[15.99,-39.96],[16.10,-40.12],[16.20,-40.21],[16.30,-40.12],[16.40,-40.12],[16.47,-41.22],[16.57,-40.63],[16.67,-40.63],[16.77,-39.54],[16.84,-40.21],[16.91,-40.80],[17.02,-40.97],[17.12,-40.63],[17.18,-40.21],[17.28,-39.96],[17.35,-39.96],[17.44,-40.54],[17.55,-39.79],[17.61,-40.21],[17.71,-40.38],[17.81,-40.38],[17.87,-39.37],[17.97,-39.28],[18.07,-40.54],[18.18,-39.37],[18.28,-39.96],[18.38,-39.70],[18.49,-39.37],[18.59,-39.79],[18.69,-39.28],[18.79,-39.28],[18.90,-39.28],[19.00,-39.28],[19.10,-38.95],[19.19,-38.69],[19.28,-39.28],[19.39,-39.96],[19.49,-39.54],[19.55,-38.95],[19.65,-40.12],[19.76,-39.11],[19.86,-40.12],[19.94,-39.45]
];

const FONT = "'Liberation Sans', Arial, Helvetica, sans-serif";

function Series({ data, xs, ys, color, r = 2.6 }: { data: P[]; xs: any; ys: any; color: string; r?: number }) {
  const line = d3.line<P>().x(d => xs(d[0])).y(d => ys(d[1]));
  return (
    <g>
      <path d={line(data) || ''} fill="none" stroke={color} strokeWidth={1.1} />
      {data.map((d, i) => (
        <circle key={i} cx={xs(d[0])} cy={ys(d[1])} r={r} fill={color} />
      ))}
    </g>
  );
}

export default function App() {
  const left = 74, right = 808, top = 12, bottom = 553;
  const x = d3.scaleLinear().domain([5, 20]).range([left, right]);
  const ySr = d3.scaleLinear().domain([0.001, 0.003]).range([142, 29]);
  const y13 = d3.scaleLinear().domain([-6, 0]).range([230, 117.7]);
  const y18 = d3.scaleLinear().domain([-6, -3]).range([343.3, 220.7]);
  const yCh = d3.scaleLinear().domain([-10, -4]).range([330, 461]);
  const yGi = d3.scaleLinear().domain([-44, -34]).range([553, 434.3]);

  const tickTxt = { fontFamily: FONT, fontSize: 12, fill: '#333' } as const;
  const titleTxt = { fontFamily: FONT, fontSize: 15, fontWeight: 700, fill: '#000' } as const;

  const leftAxis = (ticks: number[], sc: any, fmt: (v: number) => string, key: string) => (
    <g key={key}>
      {ticks.map((t, i) => (
        <g key={i}>
          <line x1={left} x2={left + 5} y1={sc(t)} y2={sc(t)} stroke="#222" strokeWidth={1} />
          <text x={left - 6} y={sc(t) + 4} textAnchor="end" {...tickTxt}>{fmt(t)}</text>
        </g>
      ))}
    </g>
  );

  return (
    <svg width={856} height={607} style={{ position: 'absolute', left: 0, top: 0, background: '#fff' }}>
      <rect x={0} y={0} width={856} height={607} fill="#fff" />
      {/* title, cut off at the top edge as in the reference (only descenders visible) */}
      <text x={353} y={-1} fontFamily={FONT} fontSize={19} fontWeight={700} fill="#000">
        Comparison of CCC-001 Records with Other Deglacial Records
      </text>

      {/* bands */}
      {lightBands.map((b, i) => (
        <rect key={'l' + i} x={x(b[0])} y={top} width={x(b[1]) - x(b[0])} height={bottom - top} fill="#c0c0c0" stroke="#333" strokeWidth={1} />
      ))}
      {darkBands.map((b, i) => (
        <rect key={'d' + i} x={x(b[0])} y={top - 1} width={x(b[1]) - x(b[0])} height={bottom - top + 1} fill="#808080" stroke="#222" strokeWidth={1} />
      ))}

      {/* frame */}
      <line x1={left} x2={right} y1={top} y2={top} stroke="#444" strokeWidth={1} />
      <line x1={right} x2={right} y1={top} y2={bottom} stroke="#222" strokeWidth={1} />
      <line x1={left} x2={left} y1={top} y2={bottom} stroke="#222" strokeWidth={1} />

      {/* series */}
      <Series data={srCa} xs={x} ys={ySr} color="#ff0000" />
      <Series data={d13c} xs={x} ys={y13} color="#000000" />
      <Series data={d18oCCC} xs={x} ys={y18} color="#ff0000" />
      <Series data={chinaBlue} xs={x} ys={yCh} color="#0000ff" />
      <Series data={chinaGreen} xs={x} ys={yCh} color="#008000" />
      <Series data={gisp} xs={x} ys={yGi} color="#000000" />

      {/* x axis */}
      <line x1={left} x2={right} y1={bottom} y2={bottom} stroke="#000" strokeWidth={1.5} />
      {xTicks.concat(xMinorTicks).map((t, i) => (
        <line key={'xt' + i} x1={x(t)} x2={x(t)} y1={bottom} y2={bottom - 7} stroke="#222" strokeWidth={1} />
      ))}
      {xTicks.map((t, i) => (
        <text key={'xl' + i} x={x(t)} y={573} textAnchor="middle" fontFamily={FONT} fontSize={14} fontWeight={700} fill="#111">{t}</text>
      ))}
      <text x={(left + right) / 2} y={601} textAnchor="middle" fontFamily={FONT} fontSize={17} fontWeight={700} fill="#111">Age (x1000 yrs BP)</text>

      {/* left axes */}
      {leftAxis(srTicks, ySr, v => v.toFixed(4), 'sr')}
      {leftAxis(d18oTicks, y18, v => v.toFixed(1), 'd18')}
      {leftAxis(gispTicks, yGi, v => String(v), 'gi')}

      {/* right axes */}
      <line x1={right} x2={right} y1={113} y2={248} stroke="#000" strokeWidth={1.5} />
      {d13cTicks.map((t, i) => (
        <g key={'r13' + i}>
          <line x1={right - 4} x2={right + 2} y1={y13(t)} y2={y13(t)} stroke="#222" />
          <text x={824} y={y13(t) + 4} textAnchor="end" {...tickTxt}>{t}</text>
        </g>
      ))}
      <line x1={right} x2={right} y1={318} y2={480} stroke="#000" strokeWidth={1.5} />
      {chinaTicks.map((t, i) => (
        <g key={'rch' + i}>
          <line x1={right - 4} x2={right} y1={yCh(t)} y2={yCh(t)} stroke="#222" />
          <text x={814} y={yCh(t) + 4} textAnchor="start" {...tickTxt}>{t}</text>
        </g>
      ))}

      {/* axis titles */}
      <text transform="translate(23,77) rotate(-90)" textAnchor="middle" {...titleTxt}>Sr/Ca CCC-001</text>
      <text transform="translate(38,286) rotate(-90)" textAnchor="middle" {...titleTxt}>
        δ<tspan fontSize={10} dy={-6}>18</tspan><tspan dy={6}>O CCC-001</tspan>
      </text>
      <text transform="translate(41,488) rotate(-90)" textAnchor="middle" {...titleTxt}>
        δ<tspan fontSize={10} dy={-6}>18</tspan><tspan dy={6}>O GISP</tspan>
      </text>
      <text transform="translate(849,185) rotate(-90)" textAnchor="middle" {...titleTxt}>
        δ<tspan fontSize={10} dy={-6}>13</tspan><tspan dy={6}>C CCC-001</tspan>
      </text>
      <text transform="translate(851,400) rotate(-90)" textAnchor="middle" {...titleTxt}>
        δ<tspan fontSize={10} dy={-6}>18</tspan><tspan dy={6}>O China Speleothem</tspan>
      </text>

      {/* event labels */}
      {eventNames.map((n, i) => (
        <text key={'ev' + i} x={x(eventAges[i])} y={i < 2 ? 533 : i === 2 ? 537 : 540} textAnchor="middle" fontFamily={FONT} fontSize={11} fill="#222">{n}</text>
      ))}
      <line x1={x(miH1Span[0])} x2={x(miH1Span[1])} y1={542} y2={542} stroke="#808080" strokeWidth={1.5} />
    </svg>
  );
}
